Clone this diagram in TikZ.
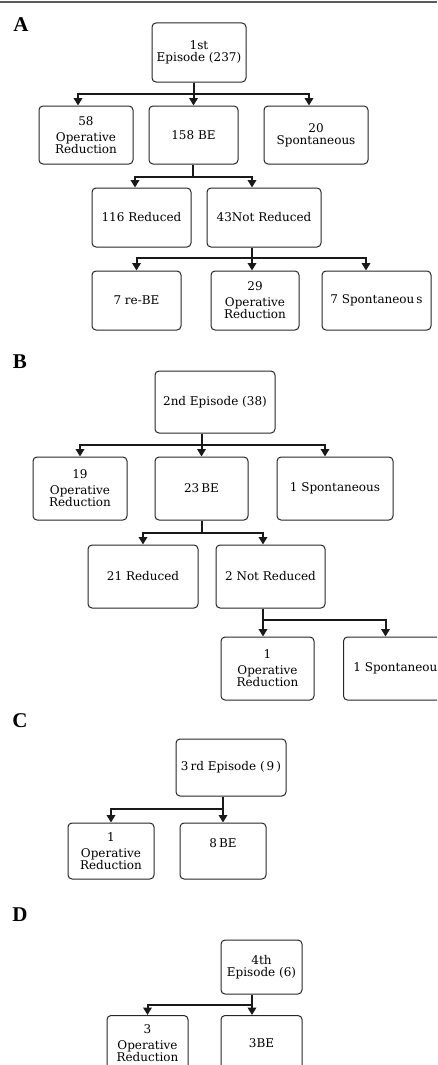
\documentclass[tikz,border=0pt]{standalone}
\usepackage{fontspec}
\setmainfont{DejaVu Serif}
\newfontfamily\panelfont{Liberation Serif}
\usepackage{tikz}
\usetikzlibrary{arrows.meta}

\tikzset{
  box/.style={draw=black!85, line width=1pt, rounded corners=4pt, align=center,
    inner sep=2pt, font=\fontsize{12}{12}\selectfont},
  trunk/.style={line width=2pt, black!90},
  link/.style={line width=2pt, black!90, -{Triangle[width=8.5pt,length=7.5pt]}},
  panel/.style={inner sep=0pt, font=\panelfont\bfseries\fontsize{21}{21}\selectfont}
}

\begin{document}
\begin{tikzpicture}[x=1pt,y=-1pt]
        \clip (0,0) rectangle (437,1065);
        \draw[black!65, line width=1.2pt] (0,2) -- (437,2);

        % panel A
        \node[panel] (pA) at (21,25) {A};
        \node[box, minimum width=94, minimum height=59] (ep1) at (199,52.5) {1st\\Episode (237)};
        \node[box, minimum width=94, minimum height=58] (or1) at (86,135) {58\hspace{16pt}\\[4pt]Operative\\Reduction};
        \node[box, minimum width=89, minimum height=58] (be1) at (193.5,135) {158 BE};
        \node[box, minimum width=104, minimum height=58] (sp1) at (316,135) {20\\Spontaneous};
        \node[box, minimum width=99, minimum height=59] (rd1) at (141.5,217.5) {116 Reduced};
        \node[box, minimum width=114, minimum height=59] (nr1) at (264,217.5) {43Not Reduced};
        \node[box, minimum width=89, minimum height=59] (re1) at (136.5,300.5) {7 re-BE};
        \node[box, minimum width=88, minimum height=59] (or2) at (255,300.5) {29\\[4pt]Operative\\Reduction};
        \node[box, minimum width=109, minimum height=59] (sp2) at (376.5,300.5) {7 Spontaneou\,s};

        \coordinate (jA1) at (194,94);
        \draw[trunk] (ep1.south -| jA1) -- (jA1);
        \draw[link] (jA1) -| ([xshift=-8pt]or1.north);
        \draw[link] (jA1) -| (be1.north);
        \draw[link] (jA1) -| ([xshift=-7pt]sp1.north);

        \coordinate (jA2) at (193,177);
        \draw[trunk] (be1.south -| jA2) -- (jA2);
        \draw[link] (jA2) -| ([xshift=-6.5pt]rd1.north);
        \draw[link] (jA2) -| ([xshift=-12pt]nr1.north);

        \coordinate (jA3) at (252,258);
        \draw[trunk] (nr1.south -| jA3) -- (jA3);
        \draw[link] (jA3) -| (re1.north);
        \draw[link] (jA3) -| ([xshift=-3pt]or2.north);
        \draw[link] (jA3) -| ([xshift=-10.5pt]sp2.north);

        % panel B
        \node[panel] (pB) at (20,361.5) {B};
        \node[box, minimum width=120, minimum height=62] (ep2) at (215,402) {2nd Episode (38)};
        \node[box, minimum width=94, minimum height=63] (or3) at (80,488.5) {19\hspace{16pt}\\[4pt]Operative\\Reduction};
        \node[box, minimum width=93, minimum height=63] (be2) at (201.5,488.5) {23\,BE};
        \node[box, minimum width=116, minimum height=63] (sp3) at (335,488.5) {1 Spontaneous};
        \node[box, minimum width=110, minimum height=63] (rd2) at (143,576.5) {21 Reduced};
        \node[box, minimum width=109, minimum height=63] (nr2) at (270.5,576.5) {2 Not Reduced};
        \node[box, minimum width=93, minimum height=63] (or4) at (267.5,668.5) {1\hspace{14pt}\\[4pt]Operative\\Reduction};
        \node[box, minimum width=110, minimum height=63, anchor=west] (sp4) at (343,668.5) {1 Spontaneous};

        \coordinate (jB1) at (202,445);
        \draw[trunk] (ep2.south -| jB1) -- (jB1);
        \draw[link] (jB1) -| (or3.north);
        \draw[link] (jB1) -| (be2.north);
        \draw[link] (jB1) -| ([xshift=-10pt]sp3.north);

        \coordinate (jB2) at (202,533);
        \draw[trunk] (be2.south -| jB2) -- (jB2);
        \draw[link] (jB2) -| (rd2.north);
        \draw[link] (jB2) -| ([xshift=-7.5pt]nr2.north);

        \coordinate (jB3) at (263,620);
        \draw[trunk] (nr2.south -| jB3) -- (jB3);
        \draw[link] (jB3) -| ([xshift=-4.5pt]or4.north);
        \draw[link] (jB3) -| ([xshift=-13pt]sp4.north);

        % panel C
        \node[panel] (pC) at (20,721) {C};
        \node[box, minimum width=110, minimum height=57] (ep3) at (231,767.5) {3\,rd Episode (\,9\,)};
        \node[box, minimum width=86, minimum height=56] (or5) at (111,851) {1\hspace{6pt}\\[4pt]Operative\\Reduction};
        \node[box, minimum width=86, minimum height=56] (be3) at (223,851) {8\,BE\\[3pt]\mbox{}};

        \coordinate (jC) at (223,809);
        \draw[trunk] (ep3.south -| jC) -- (jC);
        \draw[link] (jC) -| (or5.north);
        \draw[link] (jC) -| (be3.north);

        % panel D
        \node[panel] (pD) at (20,915) {D};
        \node[box, minimum width=81, minimum height=54] (ep4) at (261.5,967) {4th\\Episode (6)};
        \node[box, minimum width=81, minimum height=56, anchor=north] (or6) at (147.5,1015) {3\\[4pt]Operative\\Reduction};
        \node[box, minimum width=81, minimum height=56, anchor=north] (be4) at (261.5,1015) {3BE};

        \coordinate (jD) at (252,1005);
        \draw[trunk] (ep4.south -| jD) -- (jD);
        \draw[link] (jD) -| (or6.north);
        \draw[link] (jD) -| ([xshift=-9.5pt]be4.north);
      \end{tikzpicture}
\end{document}
